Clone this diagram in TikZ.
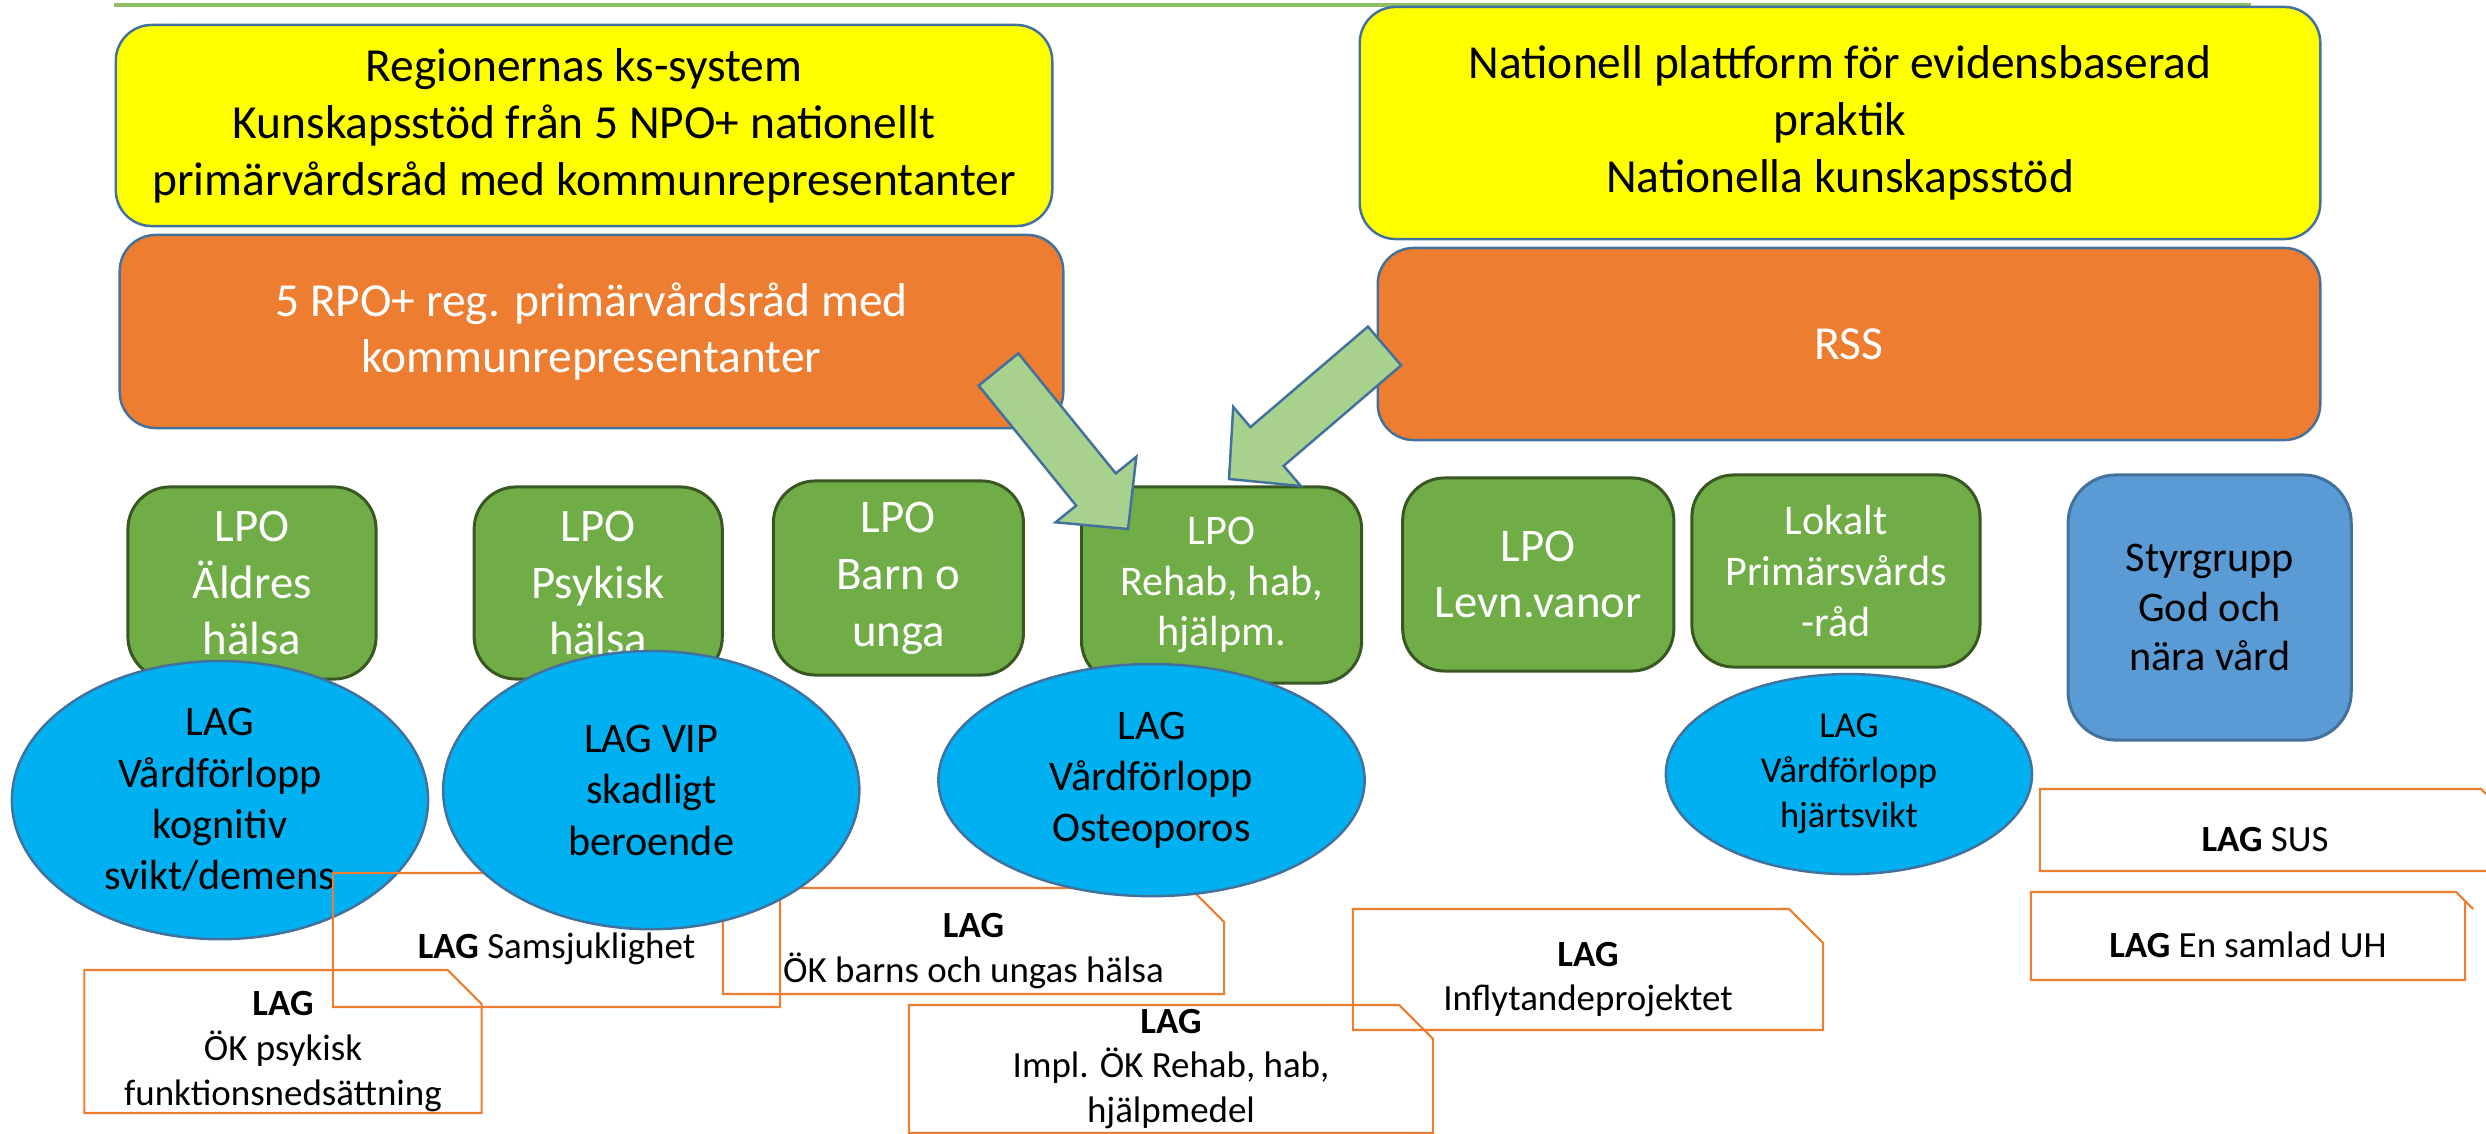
\documentclass[tikz,border=0pt]{standalone}
\usepackage{fontspec}
\setmainfont{Carlito}
\usepackage{tikz}
\usetikzlibrary{positioning, calc, shapes.geometric, shapes.misc}

\definecolor{gul}{HTML}{FFFF00}
\definecolor{orangefyll}{HTML}{ED7D31}
\definecolor{blakant}{HTML}{41719C}
\definecolor{lpogron}{HTML}{70AD47}
\definecolor{lpokant}{HTML}{385723}
\definecolor{lagbla}{HTML}{00B0F0}
\definecolor{styrbla}{HTML}{5B9BD5}
\definecolor{pilgron}{HTML}{A9D18E}
\definecolor{linjegron}{HTML}{8DBE65}

\newcommand{\lagstrut}{\rule{0pt}{0.44cm}}

\begin{document}
\begin{tikzpicture}[
    x=0.01cm, y=-0.01cm,
    node distance=3cm,
    on grid,
    every node/.style={align=center, inner sep=0pt},
    toppruta/.style={draw=blakant, line width=0.7pt, rounded corners=0.36cm, font=\fontsize{13.5}{16.2}\selectfont},
    kspruta/.style={toppruta, fill=gul},
    rpopruta/.style={toppruta, fill=orangefyll, text=white},
    lpo/.style={draw=lpokant, line width=0.85pt, fill=lpogron, text=white, rounded corners=0.42cm, minimum width=2.48cm, minimum height=1.92cm, font=\fontsize{13.3}{16.2}\selectfont},
    lag/.style={ellipse, draw=blakant, line width=0.7pt, fill=lagbla, font=\fontsize{12}{14.6}\selectfont},
    lagruta/.style={chamfered rectangle, chamfered rectangle corners=north east, chamfered rectangle sep=0.17cm, inner ysep=-0.3cm, draw=orangefyll, line width=0.6pt, font=\fontsize{10.5}{12.7}\selectfont},
    pil/.style={draw=blakant, line width=0.7pt, fill=pilgron, line join=miter}
]
\useasboundingbox (0,0) rectangle (2486,1134);

% 顶部线
\draw[linjegron, line width=0.035cm] (114,5) -- (2251,5);

% 上层方框
\node[kspruta, minimum width=9.36cm, minimum height=2.01cm] (ks) at (584,125.5) {Regionernas ks-system\\Kunskapsstöd från 5 NPO+ nationellt\\primärvårdsråd med kommunrepresentanter};
\node[kspruta, minimum width=9.6cm, minimum height=2.32cm] (npf) at (1840,123) {Nationell plattform för evidensbaserad\\praktik\\Nationella kunskapsstöd};
\node[rpopruta, minimum width=9.43cm, minimum height=1.93cm] (rpo) at (591.5,331.5) {5 RPO+ reg. primärvårdsråd med\\kommunrepresentanter};
\node[rpopruta, minimum width=9.42cm, minimum height=1.92cm] (rss) at (1849,344) {RSS};

% LPO
\node[lpo] (aldre) at (252,583) {LPO\\Äldres\\hälsa};
\node[lpo, right=3.46cm of aldre] (psyk) {LPO\\Psykisk\\hälsa};
\node[lpo, right=3cm of psyk, yshift=0.05cm, minimum width=2.5cm, minimum height=1.94cm] (barn) {LPO\\Barn o\\unga};
\node[lpo, right=3.23cm of barn, yshift=-0.07cm, minimum width=2.8cm, minimum height=1.96cm, font=\fontsize{12}{14.4}\selectfont] (rehab) {LPO\\Rehab, hab,\\hjälpm.};
\node[lpo, right=3.165cm of rehab, yshift=0.105cm, minimum width=2.71cm, minimum height=1.93cm] (levn) {LPO\\Levn.vanor};
\node[lpo, right=2.975cm of levn, yshift=0.035cm, minimum width=2.88cm, font=\fontsize{12}{14.6}\selectfont] (lokalt) {Lokalt\\Primärsvårds\\-råd};
\node[lpo, right=3.735cm of lokalt, yshift=-0.365cm, fill=styrbla, draw=blakant, text=black, rounded corners=0.48cm, minimum width=2.83cm, minimum height=2.65cm, font=\fontsize{12}{14.2}\selectfont] (styr) {Styrgrupp\\God och\\nära vård};

% LAG
\node[lag, minimum width=4.16cm, minimum height=2.78cm, below=2.17cm of aldre, xshift=-0.32cm] (kogn) {LAG\\Vårdförlopp\\kognitiv\\svikt/demens};
\node[lagruta, minimum width=4.47cm, minimum height=1.34cm] (samsj) at (556.5,940) {\lagstrut{\bfseries LAG} Samsjuklighet};
\node[lagruta, minimum width=5.01cm, minimum height=1.06cm] (okbarn) at (973.5,941) {\lagstrut{\bfseries LAG}\\ÖK barns och ungas hälsa};
\node[lag, minimum width=4.16cm, minimum height=2.78cm, below=2.07cm of psyk, xshift=0.53cm] (vip) {LAG VIP\\skadligt\\beroende};
\node[lag, minimum width=4.26cm, minimum height=2.32cm, below=1.95cm of rehab, xshift=-0.7cm] (osteo) {LAG\\Vårdförlopp\\Osteoporos};
\node[lag, minimum width=3.66cm, minimum height=2cm, below=2.03cm of lokalt, xshift=0.13cm, font=\fontsize{10.4}{12.8}\selectfont] (hjarta) {LAG\\Vårdförlopp\\hjärtsvikt};

\node[lagruta, minimum width=3.97cm, minimum height=1.43cm] (okpsyk) at (283,1041.5) {\lagstrut{\bfseries LAG}\\ÖK psykisk\\funktionsnedsättning};
\node[lagruta, minimum width=5.24cm, minimum height=1.28cm] (impl) at (1171,1069) {{\bfseries LAG}\\Impl. ÖK Rehab, hab,\\hjälpmedel};
\node[lagruta, minimum width=4.7cm, minimum height=1.21cm] (infl) at (1588,969.5) {\lagstrut{\bfseries LAG}\\Inflytandeprojektet};
\node[lagruta, minimum width=4.5cm, minimum height=0.82cm] (sus) at (2265,830) {\lagstrut{\bfseries LAG} SUS};
\node[lagruta, minimum width=4.34cm, minimum height=0.88cm] (uh) at (2248,936) {\lagstrut{\bfseries LAG} En samlad UH};

% 箭头
\coordinate (pilA) at (998.5,369.5);
\coordinate (pilAspets) at (1128,529);
\coordinate (pilB) at (1384.5,346);
\coordinate (pilBspets) at (1229,479);

\foreach \fr/\till in {pilA/pilAspets, pilB/pilBspets}{
  \coordinate (hals) at ($(\fr)!1.545cm!(\till)$);
  \draw[pil] ($(\fr)!0.255cm!90:(\till)$) -- ($(hals)!0.255cm!90:(\till)$) -- ($(hals)!0.52cm!90:(\till)$) -- (\till)
    -- ($(hals)!0.52cm!-90:(\till)$) -- ($(hals)!0.255cm!-90:(\till)$) -- ($(\fr)!0.255cm!-90:(\till)$) -- cycle;
}

\end{tikzpicture}
\end{document}
